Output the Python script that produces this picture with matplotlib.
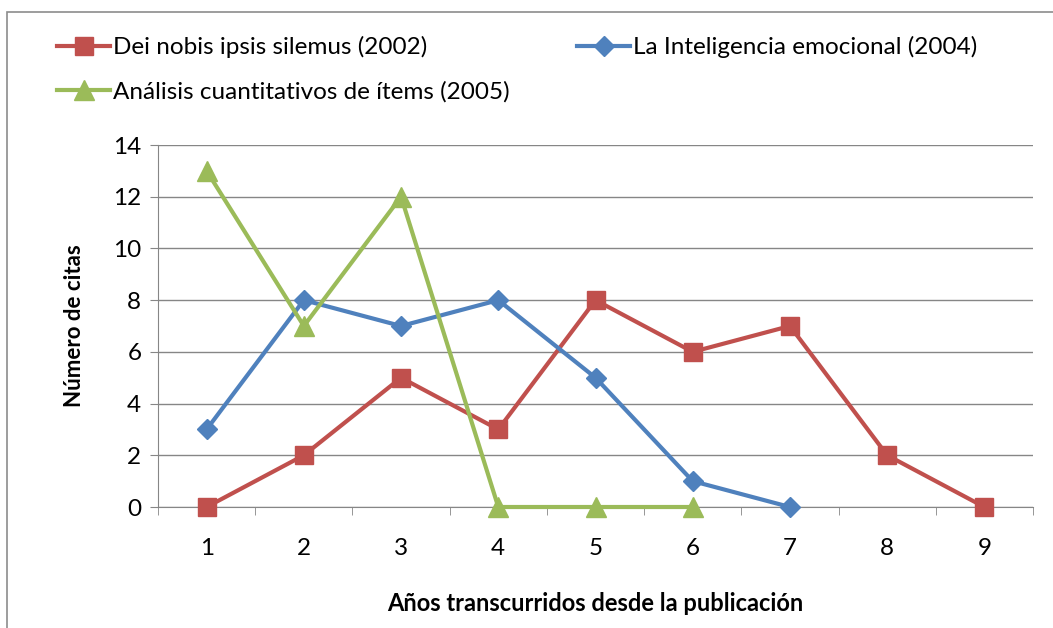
import matplotlib.pyplot as plt
from matplotlib.patches import Rectangle

plt.rcParams['font.family'] = ['Lato', 'DejaVu Sans']

# datos
anios = [1, 2, 3, 4, 5, 6, 7, 8, 9]
dei_nobis = [0, 2, 5, 3, 8, 6, 7, 2, 0]
x_intel = [1, 2, 3, 4, 5, 6, 7]
inteligencia = [3, 8, 7, 8, 5, 1, 0]
x_analisis = [1, 2, 3, 4, 5, 6]
analisis = [13, 7, 12, 0, 0, 0]

rojo = '#C0504D'
azul = '#4F81BD'
verde = '#9BBB59'

fig = plt.figure(figsize=(10.53, 6.28), dpi=100)
ax = fig.add_axes([158 / 1053, 1 - 507 / 628, (1033 - 158) / 1053, (507 - 145) / 628])

# borde del grafico
fig.patches.append(Rectangle((6.5 / 1053, -0.1), 1.2, 1 - 11.5 / 628 + 0.1,
                             transform=fig.transFigure, fill=False,
                             edgecolor='#8c8c8c', linewidth=1.2))

l1, = ax.plot(anios, dei_nobis, color=rojo, lw=3, marker='s', ms=13,
              label='Dei nobis ipsis silemus (2002)', zorder=3, clip_on=False)
l2, = ax.plot(x_intel, inteligencia, color=azul, lw=3, marker='D', ms=10,
              label='La Inteligencia emocional (2004)', zorder=3, clip_on=False)
l3, = ax.plot(x_analisis, analisis, color=verde, lw=3, marker='^', ms=14,
              label='Análisis cuantitativos de ítems (2005)', zorder=3, clip_on=False)

ax.set_xlim(0.5, 9.5)
ax.set_ylim(0, 14)
ax.set_yticks(range(0, 15, 2))
ax.set_xticks(anios)
ax.set_xticks([a + 0.5 for a in range(0, 10)], minor=True)
ax.grid(axis='y', color='#868686', lw=1)
ax.set_axisbelow(True)
for s in ['top', 'right']:
    ax.spines[s].set_visible(False)
ax.spines['left'].set_color('#868686')
ax.spines['bottom'].set_color('#868686')
ax.tick_params(axis='x', which='major', length=0, pad=22, labelsize=17.5)
ax.tick_params(axis='x', which='minor', length=6, color='#868686')
ax.tick_params(axis='y', length=6, color='#868686', labelsize=17.5, pad=6)

ax.set_xlabel('Años transcurridos desde la publicación', fontsize=17,
              fontweight='bold', labelpad=24)
ax.set_ylabel('Número de citas', fontsize=16, fontweight='bold', labelpad=20)

# leyenda en dos bloques, como en el original
leg_kw = dict(loc='upper left', frameon=False, fontsize=17.5, handlelength=2.2,
              handletextpad=0.12, labelspacing=0.95, borderaxespad=0, borderpad=0)
fig.legend([l1, l3], [l1.get_label(), l3.get_label()],
           bbox_to_anchor=(57 / 1053, 1 - 36 / 628), **leg_kw)
fig.legend([l2], [l2.get_label()],
           bbox_to_anchor=(577 / 1053, 1 - 36 / 628), **leg_kw)

fig.savefig('out.png', dpi=100)
